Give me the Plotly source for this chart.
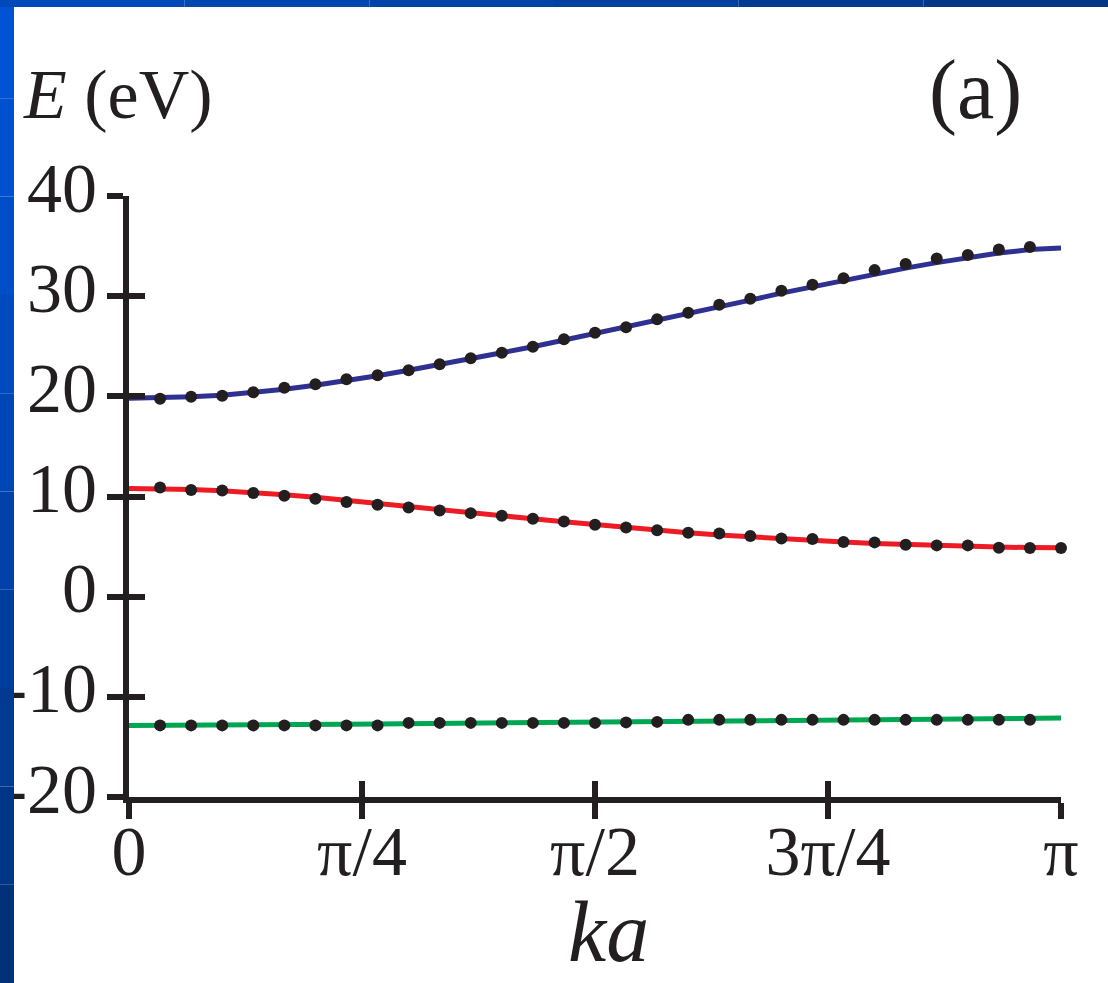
import math
import plotly.graph_objects as go

# ---- data ----
N_STEPS = 30
ka_line = [i * math.pi / N_STEPS for i in range(N_STEPS + 1)]

blue_line = [19.8, 19.85, 19.95, 20.1, 20.35, 20.7, 21.1, 21.55, 22.05, 22.6,
             23.15, 23.75, 24.35, 24.95, 25.6, 26.25, 26.9, 27.55, 28.25, 28.9,
             29.6, 30.3, 30.95, 31.6, 32.2, 32.8, 33.35, 33.85, 34.3, 34.65, 34.8]
red_line = [10.8, 10.78, 10.7, 10.57, 10.4, 10.17, 9.92, 9.63, 9.33, 9.0,
            8.68, 8.37, 8.07, 7.77, 7.47, 7.18, 6.9, 6.63, 6.38, 6.15,
            5.95, 5.77, 5.6, 5.45, 5.32, 5.2, 5.1, 5.02, 4.95, 4.9, 4.88]
green_line = [-12.85, -12.85, -12.84, -12.83, -12.82, -12.8, -12.77, -12.74, -12.71, -12.68,
              -12.65, -12.62, -12.58, -12.55, -12.52, -12.48, -12.45, -12.41, -12.38, -12.34,
              -12.3, -12.27, -12.24, -12.21, -12.19, -12.17, -12.15, -12.14, -12.13, -12.12, -12.12]

ka_dots_29 = [i * math.pi / N_STEPS for i in range(1, 30)]
ka_dots_30 = [i * math.pi / N_STEPS for i in range(1, 31)]

blue_dots = [19.75, 19.95, 20.05, 20.4, 20.85, 21.2, 21.7, 22.1, 22.6, 23.2,
             23.8, 24.35, 24.95, 25.7, 26.35, 26.9, 27.7, 28.35, 29.15, 29.75,
             30.55, 31.15, 31.8, 32.6, 33.2, 33.75, 34.1, 34.65, 34.9]
red_dots = [10.9, 10.65, 10.6, 10.35, 10.07, 9.77, 9.44, 9.18, 8.9, 8.6,
            8.34, 8.08, 7.78, 7.51, 7.18, 6.91, 6.62, 6.38, 6.3, 6.05,
            5.8, 5.75, 5.45, 5.42, 5.18, 5.12, 5.12, 4.88, 4.86, 4.86]
green_dots = [-12.85, -12.85, -12.85, -12.85, -12.85, -12.85, -12.85, -12.85,
              -12.6, -12.6, -12.6, -12.6, -12.6, -12.6, -12.6, -12.55, -12.5,
              -12.3, -12.3, -12.3, -12.3, -12.3, -12.3, -12.3, -12.3, -12.3, -12.3, -12.3, -12.3]

x_tickvals = [0, math.pi / 4, math.pi / 2, 3 * math.pi / 4, math.pi]
x_ticktext = ["0", "π/4", "π/2", "3π/4", "π"]
y_tickvals = [-20, -10, 0, 10, 20, 30, 40]
y_ticktext = ["-20", "-10", "0", "10", "20", "30", "40"]

# ---- style ----
W, H = 1108, 983
L, R, T, B = 129, 47, 196, 186
INK = "#231f20"
FONT = "Liberation Serif"
FS = 70

fig = go.Figure()
for yl, col in [(blue_line, "#2e3192"), (red_line, "#ed1c24"), (green_line, "#00a651")]:
    fig.add_trace(go.Scatter(x=ka_line, y=yl, mode="lines",
                             line=dict(color=col, width=5), cliponaxis=False,
                             hoverinfo="skip"))
for xd, yd in [(ka_dots_29, blue_dots), (ka_dots_30, red_dots), (ka_dots_29, green_dots)]:
    fig.add_trace(go.Scatter(x=xd, y=yd, mode="markers",
                             marker=dict(color=INK, size=12), cliponaxis=False))
# invisible trace so the overlaid (inside-tick) axes are drawn
fig.add_trace(go.Scatter(x=[0], y=[0], xaxis="x2", yaxis="y2", mode="markers",
                         marker=dict(opacity=0), hoverinfo="skip"))

common = dict(showgrid=False, zeroline=False, linecolor=INK, linewidth=6,
              tickcolor=INK, tickwidth=6, ticklen=16, automargin=False)
fig.update_layout(
    width=W, height=H,
    margin=dict(l=L, r=R, t=T, b=B, autoexpand=False),
    paper_bgcolor="white", plot_bgcolor="white",
    showlegend=False,
    font=dict(family=FONT, color=INK, size=FS),
    xaxis=dict(range=[0, math.pi], tickvals=x_tickvals, ticktext=x_ticktext,
               showline=True, ticks="outside", tickfont=dict(size=FS),
               ticklabelstandoff=-28, **common),
    yaxis=dict(range=[-20, 40], tickvals=y_tickvals, ticktext=y_ticktext,
               showline=True, ticks="outside", tickfont=dict(size=FS),
               ticklabelstandoff=-4, ticklabelshift=-9, **common),
    xaxis2=dict(range=[0, math.pi], overlaying="x", anchor="y2", tickvals=x_tickvals,
                showticklabels=False, showline=False, ticks="inside", **common),
    yaxis2=dict(range=[-20, 40], overlaying="y", anchor="x2", tickvals=y_tickvals,
                showticklabels=False, showline=False, ticks="inside", **common),
)

def px_x(px):
    return (px - L) / (W - L - R)

def px_y(py):
    return 1 - (py - T) / (H - T - B)

def label(text, cx, cy, size):
    fig.add_annotation(text=text, xref="paper", yref="paper",
                       x=px_x(cx), y=px_y(cy), xanchor="center", yanchor="middle",
                       showarrow=False, font=dict(size=size, family=FONT, color=INK))

label("<i>E</i> (eV)", 118, 95, 70)
label("(a)", 975, 90, 84)
label("<i>ka</i>", 608, 932, 86)

# blue slide border (left & top strips), built from bands to mimic the gradient
left_cols = ["#0052d4", "#0050cf", "#004dc8", "#004ac0", "#0046b6", "#0042aa",
             "#003e9e", "#003a92", "#003686", "#00327c"]
n = len(left_cols)
for k, c in enumerate(left_cols):
    fig.add_shape(type="rect", xref="paper", yref="paper", layer="above",
                  x0=px_x(0), x1=px_x(14), y0=px_y(983 * (k + 1) / n), y1=px_y(983 * k / n),
                  fillcolor=c, line=dict(width=0))
top_cols = ["#0049b8", "#0047b0", "#0044a8", "#00409e", "#003b92", "#003686"]
m = len(top_cols)
for k, c in enumerate(top_cols):
    fig.add_shape(type="rect", xref="paper", yref="paper", layer="above",
                  x0=px_x(W * k / m), x1=px_x(W * (k + 1) / m), y0=px_y(7), y1=px_y(0),
                  fillcolor=c, line=dict(width=0))

fig.write_html("out.html", config={"displayModeBar": False},
               post_script="document.body.style.margin='0';document.body.style.overflow='hidden';")
